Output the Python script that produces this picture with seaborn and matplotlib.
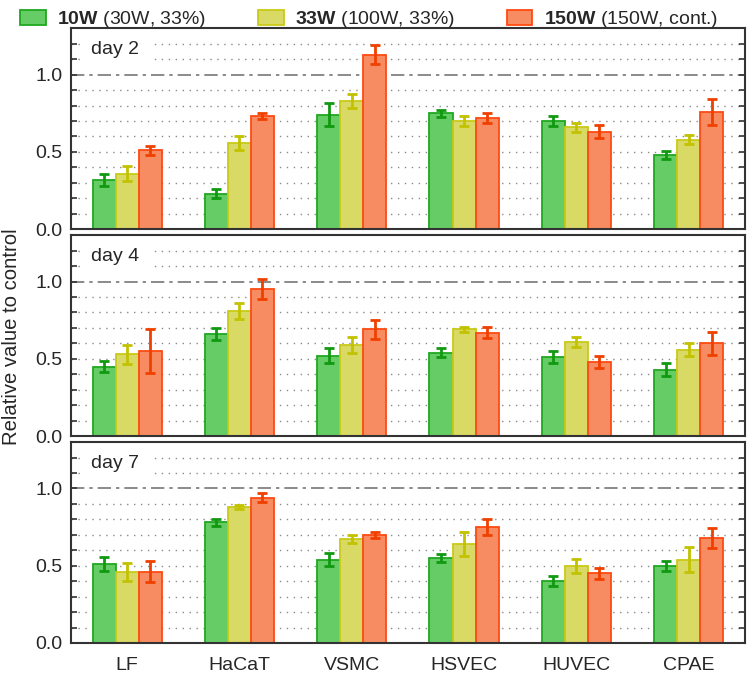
import numpy as np
import pandas as pd
import matplotlib
matplotlib.use("Agg")
import matplotlib.pyplot as plt
import matplotlib.patches as mpatches
import seaborn as sns

# Data.
cells = ["LF", "HaCaT", "VSMC", "HSVEC", "HUVEC", "CPAE"]
series = ["10W", "33W", "150W"]
series_notes = ["(30W, 33%)", "(100W, 33%)", "(150W, cont.)"]
days = ["day 2", "day 4", "day 7"]

d2_10w = [0.32, 0.23, 0.74, 0.75, 0.70, 0.48]
d2_33w = [0.36, 0.56, 0.83, 0.70, 0.66, 0.58]
d2_150w = [0.51, 0.73, 1.13, 0.72, 0.63, 0.76]
d2_10w_err = [0.04, 0.027, 0.075, 0.024, 0.035, 0.026]
d2_33w_err = [0.05, 0.045, 0.043, 0.033, 0.03, 0.027]
d2_150w_err = [0.03, 0.02, 0.06, 0.03, 0.042, 0.083]

d4_10w = [0.45, 0.66, 0.52, 0.54, 0.51, 0.43]
d4_33w = [0.53, 0.81, 0.59, 0.69, 0.61, 0.56]
d4_150w = [0.55, 0.95, 0.69, 0.67, 0.48, 0.60]
d4_10w_err = [0.038, 0.04, 0.049, 0.03, 0.04, 0.042]
d4_33w_err = [0.062, 0.054, 0.053, 0.017, 0.031, 0.042]
d4_150w_err = [0.141, 0.065, 0.06, 0.037, 0.041, 0.075]

d7_10w = [0.51, 0.78, 0.54, 0.55, 0.40, 0.50]
d7_33w = [0.46, 0.88, 0.67, 0.64, 0.50, 0.54]
d7_150w = [0.46, 0.94, 0.70, 0.75, 0.45, 0.68]
d7_10w_err = [0.047, 0.02, 0.04, 0.026, 0.034, 0.033]
d7_33w_err = [0.057, 0.015, 0.026, 0.077, 0.045, 0.081]
d7_150w_err = [0.068, 0.03, 0.02, 0.053, 0.038, 0.062]

means = [[d2_10w, d2_33w, d2_150w], [d4_10w, d4_33w, d4_150w], [d7_10w, d7_33w, d7_150w]]
errs = [[d2_10w_err, d2_33w_err, d2_150w_err],
        [d4_10w_err, d4_33w_err, d4_150w_err],
        [d7_10w_err, d7_33w_err, d7_150w_err]]

fills = ["#66cc66", "#d9d965", "#f78c62"]
edges = ["#1fa81f", "#c9c918", "#ff4a12"]
err_colors = ["#119911", "#c2c200", "#f04000"]

sns.set_style("white")
plt.rcParams["font.family"] = ["Liberation Sans", "DejaVu Sans"]
plt.rcParams["mathtext.fontset"] = "custom"
plt.rcParams["mathtext.rm"] = "Liberation Sans"
plt.rcParams["mathtext.bf"] = "Liberation Sans:bold"

FS = 14

fig, axes = plt.subplots(3, 1, figsize=(7.47, 6.74), dpi=100, sharex=True)
fig.subplots_adjust(left=0.095, right=0.997, top=0.958, bottom=0.046, hspace=0.03)

for d, ax in enumerate(axes):
    df = pd.DataFrame({
        "cell": cells * 3,
        "series": np.repeat(series, len(cells)),
        "value": np.concatenate(means[d]),
    })
    sns.barplot(data=df, x="cell", y="value", hue="series", palette=fills,
                saturation=1, width=0.615, errorbar=None, legend=False,
                linewidth=1.3, ax=ax, zorder=2)

    bar_sets = list(ax.containers)
    for s, cont in enumerate(bar_sets):
        xs = []
        for bar in cont.patches:
            bar.set_edgecolor(edges[s])
            xs.append(bar.get_x() + bar.get_width() / 2)
        ax.errorbar(xs, means[d][s], yerr=errs[d][s], fmt="none",
                    ecolor=err_colors[s], elinewidth=2, capsize=3.8,
                    capthick=2, zorder=4)

    ax.set_ylim(0, 1.3)
    ax.set_xlim(-0.5, 5.5)
    ax.set_yticks([0, 0.5, 1.0])
    ax.set_yticklabels(["0.0", "0.5", "1.0"])
    ax.set_yticks(np.arange(0.1, 1.3, 0.1), minor=True)

    # grid: dotted every 0.1, dash-dot at 1.0
    for yv in np.arange(0.1, 1.3, 0.1):
        if abs(yv - 1.0) < 1e-6:
            ax.axhline(yv, color="#777777", lw=1.2, ls=(0, (8, 3, 2, 3)), zorder=0)
        else:
            ax.axhline(yv, color="#8a8a8a", lw=1.0, ls=(0, (1, 4)), zorder=0)

    ax.tick_params(axis="y", which="both", direction="in", left=True, right=True,
                   length=4, width=1.2, color="#333333", labelsize=FS, pad=6)
    ax.tick_params(axis="x", length=0, labelsize=FS, pad=10)
    for sp in ax.spines.values():
        sp.set_color("#333333")
        sp.set_linewidth(1.5)
    ax.set_xlabel("")
    ax.set_ylabel("")

    ax.text(0.03, 0.895, days[d], transform=ax.transAxes, fontsize=FS,
            va="center", ha="left", zorder=5,
            bbox=dict(facecolor="white", edgecolor="none", pad=8))

fig.text(0.016, 0.5, "Relative value to control", rotation=90,
         va="center", ha="center", fontsize=14.6)

handles = [mpatches.Patch(facecolor=fills[i], edgecolor=edges[i], linewidth=1.3,
                          label=r"$\bf{" + series[i] + "}$ " + series_notes[i])
           for i in range(3)]
fig.legend(handles=handles, loc="upper left", bbox_to_anchor=(0.004, 1.012), ncol=3,
           frameon=False, fontsize=FS, handlelength=1.3, handleheight=0.8,
           handletextpad=0.6, columnspacing=2.65)

fig.savefig("out.png", dpi=100)
